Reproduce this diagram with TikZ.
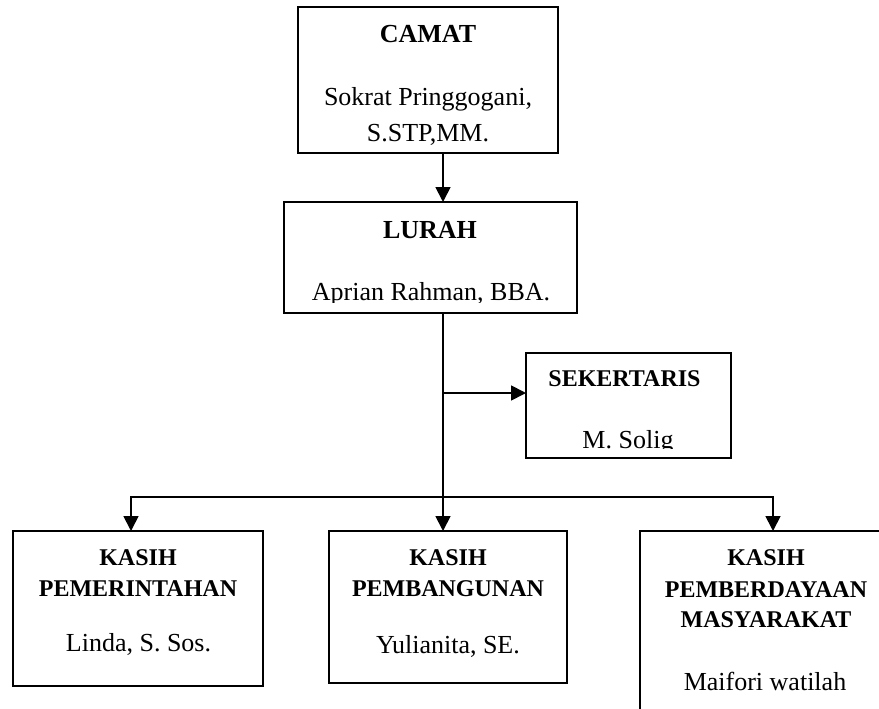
\documentclass[tikz,border=0pt]{standalone}
\usepackage{fontspec}
\setmainfont{Liberation Serif}
\usetikzlibrary{arrows.meta}
\tikzset{
  box/.style={draw, line width=1.8pt, inner sep=0pt, outer sep=0pt},
  conn/.style={line width=1.8pt},
  arr/.style={conn, -{Triangle[length=15pt,width=15pt]}},
  dblarr/.style={conn, {Triangle[length=15pt,width=15pt]}-{Triangle[length=15pt,width=15pt]}},
  hbig/.style={anchor=base, font=\fontsize{26}{30}\selectfont\bfseries},
  hsmall/.style={anchor=base, font=\fontsize{24}{28}\selectfont\bfseries},
  person/.style={anchor=base, font=\fontsize{26}{30}\selectfont},
}
\begin{document}
\begin{tikzpicture}[x=1pt,y=-1pt]
\clip (0,0) rectangle (879,709);
\fill[white] (0,0) rectangle (879,709);

% boxes
\node[box, minimum width=260pt, minimum height=146pt] (camat) at (428,80) {};
\node[box, minimum width=293pt, minimum height=111pt] (lurah) at (430.5,257.5) {};
\node[box, minimum width=205pt, minimum height=105pt] (sek) at (628.5,405.5) {};
\node[box, minimum width=250pt, minimum height=155pt] (pemr) at (138,608.5) {};
\node[box, minimum width=238pt, minimum height=152pt] (pemb) at (448,607) {};
\node[box, minimum width=252pt, minimum height=190pt] (pmas) at (766,626) {};

% texts
\node[hbig] (tcamat) at (428,43) {CAMAT};
\node[person] (tcamat1) at (428,106) {Sokrat Pringgogani,};
\node[person] (tcamat2) at (428,141) {S.STP,MM.};
\node[hbig] (tlurah) at (430,238) {LURAH};
\begin{scope}
  \clip (284,202) rectangle (577,302);
  \node[person] (tlurah1) at (431,300) {Aprian Rahman, BBA.};
\end{scope}
\node[hsmall] (tsek) at (624.5,386) {SEKERTARIS};
\begin{scope}
  \clip (526,353) rectangle (731,448);
  \node[person] (tsek1) at (628,448) {M. Solig};
\end{scope}
\node[hsmall] (tpemr) at (138,565) {KASIH};
\node[hsmall] (tpemr1) at (138,596) {PEMERINTAHAN};
\node[person] (tpemr2) at (138.5,651) {Linda, S. Sos.};
\node[hsmall] (tpemb) at (448,565) {KASIH};
\node[hsmall] (tpemb1) at (448,596) {PEMBANGUNAN};
\node[person] (tpemb2) at (448,653) {Yulianita, SE.};
\node[hsmall] (tpmas) at (766,565) {KASIH};
\node[hsmall] (tpmas1) at (766,597) {PEMBERDAYAAN};
\node[hsmall] (tpmas2) at (766,627) {MASYARAKAT};
\node[person] (tpmas3) at (765,690) {Maifori watilah};

% connectors
\coordinate (trunk) at ([xshift=12.5pt]lurah.south);
\coordinate (busy) at (0,497);
\coordinate (sekin) at ([yshift=12.5pt]sek.west);
\coordinate (pemrin) at ([xshift=-7pt]pemr.north);
\coordinate (pmasin) at ([xshift=7pt]pmas.north);

\draw[arr] ([xshift=15pt]camat.south) -- ([xshift=15pt]camat.south |- lurah.north);
\draw[arr] (trunk) -- (trunk |- pemb.north);
\draw[arr] (trunk |- sekin) -- (sekin);
\draw[dblarr] (pemrin) -- (pemrin |- busy) -- (pmasin |- busy) -- (pmasin);
\end{tikzpicture}
\end{document}
